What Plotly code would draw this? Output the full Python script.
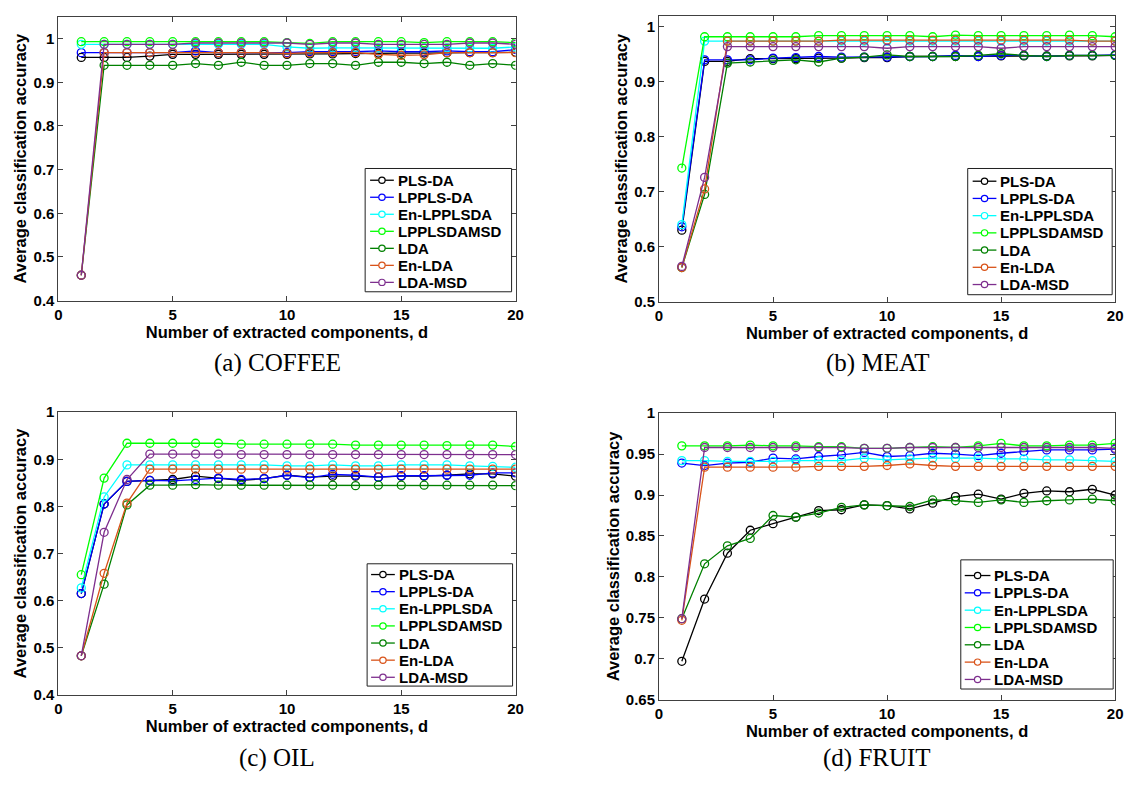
import plotly.graph_objects as go

# Number of extracted components
d = list(range(1, 21))

methods = ["PLS-DA", "LPPLS-DA", "En-LPPLSDA", "LPPLSDAMSD", "LDA", "En-LDA", "LDA-MSD"]
colors = ["#000000", "#0000FF", "#00FFFF", "#00FF00", "#008000", "#D95319", "#7E2F8E"]

# ---- COFFEE ----
coffee_pls_da = [0.957, 0.957, 0.957, 0.960, 0.964, 0.964, 0.964, 0.964, 0.964, 0.964,
                 0.965, 0.965, 0.966, 0.967, 0.967, 0.967, 0.968, 0.968, 0.968, 0.969]
coffee_lppls_da = [0.968, 0.968, 0.968, 0.968, 0.968, 0.972, 0.968, 0.968, 0.968, 0.968,
                   0.970, 0.970, 0.970, 0.972, 0.970, 0.970, 0.972, 0.970, 0.970, 0.975]
coffee_en_lpplsda = [0.987, 0.987, 0.987, 0.987, 0.987, 0.987, 0.987, 0.987, 0.987, 0.981,
                     0.978, 0.979, 0.979, 0.979, 0.979, 0.979, 0.979, 0.979, 0.978, 0.981]
coffee_lpplsdamsd = [0.993, 0.993, 0.993, 0.993, 0.993, 0.993, 0.993, 0.993, 0.993, 0.991,
                     0.989, 0.993, 0.993, 0.993, 0.993, 0.991, 0.993, 0.993, 0.993, 0.991]
coffee_lda = [0.458, 0.939, 0.939, 0.939, 0.939, 0.943, 0.939, 0.946, 0.939, 0.939,
              0.943, 0.943, 0.939, 0.946, 0.946, 0.943, 0.946, 0.939, 0.943, 0.939]
coffee_en_lda = [0.458, 0.968, 0.968, 0.968, 0.968, 0.968, 0.968, 0.968, 0.968, 0.966,
                 0.968, 0.968, 0.968, 0.964, 0.962, 0.963, 0.968, 0.968, 0.968, 0.968]
coffee_lda_msd = [0.458, 0.987, 0.987, 0.987, 0.987, 0.990, 0.990, 0.990, 0.990, 0.990,
                  0.987, 0.990, 0.990, 0.987, 0.987, 0.987, 0.987, 0.990, 0.990, 0.987]

# ---- MEAT ----
meat_pls_da = [0.630, 0.937, 0.937, 0.942, 0.942, 0.942, 0.943, 0.943, 0.944, 0.944,
               0.946, 0.946, 0.946, 0.946, 0.947, 0.947, 0.947, 0.947, 0.947, 0.948]
meat_lppls_da = [0.636, 0.940, 0.940, 0.940, 0.943, 0.944, 0.946, 0.945, 0.945, 0.945,
                 0.946, 0.946, 0.948, 0.946, 0.948, 0.948, 0.946, 0.948, 0.948, 0.949]
meat_en_lpplsda = [0.640, 0.974, 0.974, 0.974, 0.974, 0.974, 0.974, 0.974, 0.974, 0.974,
                   0.974, 0.974, 0.974, 0.974, 0.974, 0.974, 0.974, 0.974, 0.974, 0.974]
meat_lpplsdamsd = [0.743, 0.982, 0.982, 0.982, 0.982, 0.982, 0.984, 0.984, 0.984, 0.984,
                   0.984, 0.982, 0.985, 0.984, 0.984, 0.984, 0.984, 0.985, 0.984, 0.982]
meat_lda = [0.562, 0.695, 0.934, 0.936, 0.939, 0.940, 0.936, 0.943, 0.945, 0.949,
            0.946, 0.946, 0.946, 0.948, 0.951, 0.948, 0.946, 0.948, 0.948, 0.948]
meat_en_lda = [0.562, 0.705, 0.974, 0.974, 0.974, 0.974, 0.974, 0.976, 0.976, 0.976,
               0.976, 0.976, 0.976, 0.976, 0.976, 0.976, 0.976, 0.976, 0.974, 0.974]
meat_lda_msd = [0.564, 0.726, 0.964, 0.964, 0.964, 0.964, 0.964, 0.964, 0.964, 0.961,
                0.964, 0.964, 0.964, 0.964, 0.961, 0.964, 0.964, 0.964, 0.964, 0.964]

# ---- OIL ----
oil_pls_da = [0.615, 0.805, 0.853, 0.855, 0.857, 0.864, 0.859, 0.855, 0.859, 0.866,
              0.862, 0.864, 0.864, 0.862, 0.864, 0.864, 0.866, 0.869, 0.869, 0.864]
oil_lppls_da = [0.615, 0.805, 0.853, 0.855, 0.854, 0.857, 0.860, 0.857, 0.859, 0.866,
                0.861, 0.868, 0.866, 0.862, 0.865, 0.865, 0.866, 0.866, 0.871, 0.871]
oil_en_lpplsda = [0.627, 0.820, 0.888, 0.888, 0.888, 0.888, 0.888, 0.888, 0.888, 0.886,
                  0.886, 0.888, 0.886, 0.886, 0.888, 0.888, 0.888, 0.886, 0.885, 0.883]
oil_lpplsdamsd = [0.655, 0.860, 0.934, 0.934, 0.934, 0.934, 0.934, 0.932, 0.932, 0.932,
                  0.932, 0.932, 0.930, 0.930, 0.930, 0.930, 0.929, 0.930, 0.930, 0.927]
oil_lda = [0.483, 0.635, 0.803, 0.845, 0.845, 0.846, 0.845, 0.845, 0.845, 0.845,
           0.845, 0.845, 0.844, 0.845, 0.845, 0.845, 0.845, 0.845, 0.845, 0.844]
oil_en_lda = [0.483, 0.658, 0.807, 0.879, 0.879, 0.879, 0.879, 0.879, 0.879, 0.879,
              0.879, 0.879, 0.879, 0.879, 0.879, 0.879, 0.879, 0.879, 0.879, 0.879]
oil_lda_msd = [0.483, 0.745, 0.857, 0.911, 0.911, 0.911, 0.911, 0.910, 0.910, 0.910,
               0.910, 0.910, 0.910, 0.910, 0.910, 0.910, 0.910, 0.910, 0.910, 0.910]

# ---- FRUIT ----
fruit_pls_da = [0.697, 0.773, 0.829, 0.857, 0.865, 0.873, 0.881, 0.882, 0.888, 0.887,
                0.883, 0.890, 0.898, 0.901, 0.895, 0.902, 0.905, 0.904, 0.907, 0.900]
fruit_lppls_da = [0.939, 0.936, 0.939, 0.940, 0.945, 0.944, 0.947, 0.949, 0.952, 0.947,
                  0.948, 0.951, 0.950, 0.948, 0.951, 0.953, 0.955, 0.955, 0.955, 0.956]
fruit_en_lpplsda = [0.942, 0.942, 0.941, 0.941, 0.941, 0.942, 0.942, 0.942, 0.945, 0.943,
                    0.944, 0.945, 0.945, 0.945, 0.944, 0.944, 0.943, 0.943, 0.942, 0.941]
fruit_lpplsdamsd = [0.960, 0.960, 0.960, 0.961, 0.960, 0.960, 0.959, 0.959, 0.957, 0.957,
                    0.958, 0.959, 0.958, 0.960, 0.963, 0.960, 0.960, 0.961, 0.961, 0.963]
fruit_lda = [0.749, 0.816, 0.838, 0.847, 0.875, 0.873, 0.878, 0.885, 0.888, 0.887,
             0.886, 0.894, 0.893, 0.891, 0.894, 0.891, 0.893, 0.894, 0.895, 0.893]
fruit_en_lda = [0.747, 0.934, 0.934, 0.934, 0.934, 0.934, 0.935, 0.935, 0.935, 0.936,
                0.938, 0.936, 0.935, 0.935, 0.935, 0.935, 0.935, 0.935, 0.935, 0.935]
fruit_lda_msd = [0.749, 0.958, 0.958, 0.958, 0.958, 0.958, 0.958, 0.958, 0.957, 0.957,
                 0.958, 0.958, 0.958, 0.958, 0.958, 0.958, 0.958, 0.958, 0.958, 0.957]

panels = [
    dict(series=[coffee_pls_da, coffee_lppls_da, coffee_en_lpplsda, coffee_lpplsdamsd,
                 coffee_lda, coffee_en_lda, coffee_lda_msd],
         caption="(a) COFFEE", yrange=[0.4, 1.05],
         yticks=[0.4, 0.5, 0.6, 0.7, 0.8, 0.9, 1.0],
         yticktext=["0.4", "0.5", "0.6", "0.7", "0.8", "0.9", "1"]),
    dict(series=[meat_pls_da, meat_lppls_da, meat_en_lpplsda, meat_lpplsdamsd,
                 meat_lda, meat_en_lda, meat_lda_msd],
         caption="(b) MEAT", yrange=[0.5, 1.02],
         yticks=[0.5, 0.6, 0.7, 0.8, 0.9, 1.0],
         yticktext=["0.5", "0.6", "0.7", "0.8", "0.9", "1"]),
    dict(series=[oil_pls_da, oil_lppls_da, oil_en_lpplsda, oil_lpplsdamsd,
                 oil_lda, oil_en_lda, oil_lda_msd],
         caption="(c) OIL", yrange=[0.4, 1.0],
         yticks=[0.4, 0.5, 0.6, 0.7, 0.8, 0.9, 1.0],
         yticktext=["0.4", "0.5", "0.6", "0.7", "0.8", "0.9", "1"]),
    dict(series=[fruit_pls_da, fruit_lppls_da, fruit_en_lpplsda, fruit_lpplsdamsd,
                 fruit_lda, fruit_en_lda, fruit_lda_msd],
         caption="(d) FRUIT", yrange=[0.65, 1.0],
         yticks=[0.65, 0.7, 0.75, 0.8, 0.85, 0.9, 0.95, 1.0],
         yticktext=["0.65", "0.7", "0.75", "0.8", "0.85", "0.9", "0.95", "1"]),
]

W, H = 1136, 789
# plot-area boxes in pixels: (left, top, right, bottom)
boxes = [(55, 8, 517, 298), (662, 7, 1123, 299), (55, 412, 517, 701), (662, 413, 1123, 706)]
# legend box geometry in pixels: (left, top, right, bottom, line_x0, line_x1, text_x, first_row_y, row_step)
legend_boxes = [
    (365, 163, 513, 289, 370, 394, 396, 175, 17.4),
    (974, 163, 1120, 292, 979, 1003, 1005, 176, 17.6),
    (367, 567, 514, 692, 371, 395, 397, 578, 17.5),
    (967, 563, 1121, 695, 971, 997, 999, 579, 17.7),
]
caption_y = [362, 362, 765, 765]

AX = "#404040"
SANS = "Liberation Sans, Arial, sans-serif"
tick_font = dict(family=SANS, size=15, color="black", weight="bold")
title_font = dict(family=SANS, size=16.5, color="black", weight="bold")
legend_font = dict(family=SANS, size=15, color="black", weight="bold")


def px(x):
    return x / W


def py(y):
    return 1 - y / H


fig = go.Figure()
layout = dict(width=W, height=H, margin=dict(l=0, r=0, t=0, b=0),
              paper_bgcolor="white", plot_bgcolor="white", showlegend=False,
              annotations=[], shapes=[])

for i, p in enumerate(panels):
    k = "" if i == 0 else str(i + 1)
    xa, ya = "x" + k, "y" + k
    for name, col, vals in zip(methods, colors, p["series"]):
        fig.add_trace(go.Scatter(
            x=d, y=vals, name=name, mode="lines+markers",
            line=dict(color=col, width=1.3),
            marker=dict(symbol="circle-open", size=8, color=col, line=dict(width=1.3, color=col)),
            xaxis=xa, yaxis=ya))
    l, t, r, b = boxes[i]
    layout["xaxis" + k] = dict(
        domain=[px(l), px(r)], anchor=ya, range=[0, 20],
        tickvals=[0, 5, 10, 15, 20], ticks="inside", ticklen=5, tickcolor=AX,
        showline=True, linecolor=AX, linewidth=1, mirror="ticks",
        showgrid=False, zeroline=False, tickfont=tick_font,
        title=dict(text="Number of extracted components, d", font=title_font, standoff=3))
    layout["yaxis" + k] = dict(
        domain=[py(b), py(t)], anchor=xa, range=p["yrange"],
        tickvals=p["yticks"], ticktext=p["yticktext"],
        ticks="inside", ticklen=5, tickcolor=AX,
        showline=True, linecolor=AX, linewidth=1, mirror="ticks",
        showgrid=False, zeroline=False, tickfont=tick_font,
        title=dict(text="Average classification accuracy", font=title_font, standoff=2))

    # legend box with a line + open-circle sample per method
    lx0, ly0, lx1, ly1, sx0, sx1, tx, ry, rstep = legend_boxes[i]
    layout["shapes"].append(dict(
        type="rect", xref="paper", yref="paper",
        x0=px(lx0), x1=px(lx1), y0=py(ly1), y1=py(ly0),
        line=dict(color="#202020", width=1), fillcolor="white", layer="above"))
    for j, (name, col) in enumerate(zip(methods, colors)):
        yy = ry + j * rstep
        layout["shapes"].append(dict(
            type="line", xref="paper", yref="paper",
            x0=px(sx0), x1=px(sx1), y0=py(yy), y1=py(yy),
            line=dict(color=col, width=1.3), layer="above"))
        cx = (sx0 + sx1) / 2
        layout["shapes"].append(dict(
            type="circle", xref="paper", yref="paper",
            x0=px(cx - 3.2), x1=px(cx + 3.2), y0=py(yy + 3.2), y1=py(yy - 3.2),
            line=dict(color=col, width=1.2), fillcolor="white", layer="above"))
        layout["annotations"].append(dict(
            text=name, xref="paper", yref="paper", x=px(tx), y=py(yy),
            xanchor="left", yanchor="middle", showarrow=False, font=legend_font))

    layout["annotations"].append(dict(
        text=p["caption"], xref="paper", yref="paper",
        x=px((l + r) / 2 - 10), y=py(caption_y[i]),
        xanchor="center", yanchor="middle", showarrow=False,
        font=dict(family="Liberation Serif, serif", size=25, color="black")))

fig.update_layout(**layout)
fig.write_html("out.html")
